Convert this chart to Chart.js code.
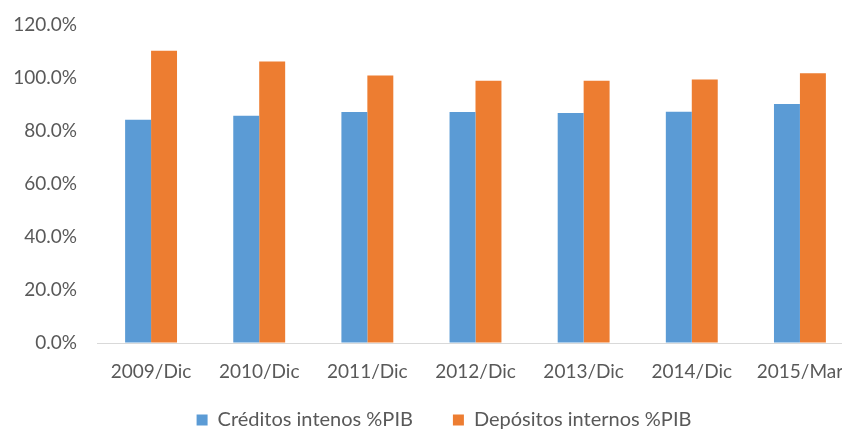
<!DOCTYPE html>
<html>
<head>
<meta charset="utf-8">
<script src="https://cdn.jsdelivr.net/npm/chart.js@4.4.1/dist/chart.umd.min.js"></script>
<style>
  html, body { margin: 0; padding: 0; background: #ffffff; overflow: hidden; width: 842px; height: 432px; }
  #wrap { position: absolute; left: 0; top: 0; width: 888px; height: 440px; }
</style>
</head>
<body>
<div id="wrap"><canvas id="c" width="888" height="440"></canvas></div>
<script>
const categories = ["2009/Dic", "2010/Dic", "2011/Dic", "2012/Dic", "2013/Dic", "2014/Dic", "2015/Mar"];
const creditos = [84.2, 85.8, 87.2, 87.2, 86.8, 87.3, 90.2];
const depositos = [110.3, 106.2, 100.9, 99.0, 99.0, 99.4, 101.8];
const seriesNames = ["Créditos intenos %PIB", "Depósitos internos %PIB"];
const yTicks = [0, 20, 40, 60, 80, 100, 120];

const textColor = "#595959";
const fontFamily = "Lato, 'Open Sans', sans-serif";

new Chart(document.getElementById("c"), {
  type: "bar",
  data: {
    labels: categories,
    datasets: [
      { label: seriesNames[0], data: creditos, backgroundColor: "#5B9BD5", borderWidth: 0 },
      { label: seriesNames[1], data: depositos, backgroundColor: "#ED7D31", borderWidth: 0 }
    ]
  },
  options: {
    responsive: false,
    animation: false,
    devicePixelRatio: 1,
    layout: { padding: { top: 25, left: 0, right: 0, bottom: 0 } },
    datasets: { bar: { categoryPercentage: 0.48, barPercentage: 1.0 } },
    plugins: {
      tooltip: { enabled: false },
      legend: {
        position: "bottom",
        labels: {
          color: textColor,
          font: { family: fontFamily, size: 20 },
          boxWidth: 11,
          boxHeight: 11,
          padding: 40
        }
      }
    },
    scales: {
      x: {
        grid: { display: false, drawTicks: false },
        border: { display: true, color: "#d9d9d9", width: 1 },
        ticks: { color: textColor, font: { family: fontFamily, size: 19 }, mirror: true, padding: -40, maxRotation: 0, autoSkip: false },
        afterFit: s => { s.height = 27; }
      },
      y: {
        min: 0,
        max: 120,
        afterBuildTicks: s => { s.ticks = yTicks.map(v => ({ value: v })); },
        grid: { display: true, drawOnChartArea: false, drawTicks: true, tickLength: 20, tickColor: "rgba(0,0,0,0)" },
        border: { display: false },
        ticks: {
          color: textColor,
          font: { family: fontFamily, size: 19 },
          padding: 0,
          callback: v => v.toFixed(1) + "%"
        },
        afterFit: s => { s.width = 97; }
      },
      y2: {
        type: "linear",
        position: "right",
        display: true,
        grid: { display: false, drawTicks: false },
        border: { display: false },
        ticks: { display: false },
        afterFit: s => { s.width = 34; }
      }
    }
  }
});
</script>
</body>
</html>
